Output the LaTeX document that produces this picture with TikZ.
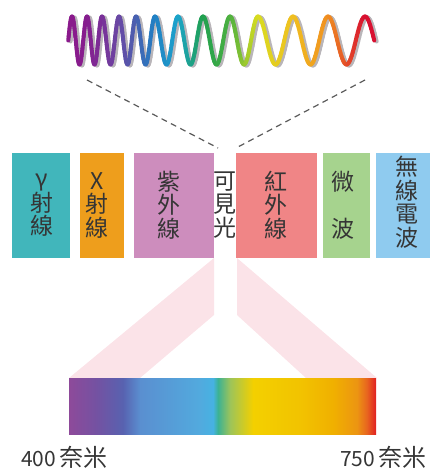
\documentclass[tikz,border=0pt]{standalone}
\usepackage{fontspec}
\newfontfamily\cjk{Noto Sans CJK TC}

% box and decoration colours
\definecolor{gamc}{HTML}{41B6BB}
\definecolor{xrc}{HTML}{EE9E1C}
\definecolor{uvc}{HTML}{CD8DBD}
\definecolor{irc}{HTML}{F08586}
\definecolor{mwc}{HTML}{A6D38E}
\definecolor{rdc}{HTML}{8FCBEF}
\definecolor{pinkc}{HTML}{FBE3E8}
\definecolor{txtc}{HTML}{353535}
\definecolor{dashc}{HTML}{5A5A5A}
\definecolor{waveshade}{HTML}{B9B5B9}

% wave colours at successive crests
\definecolor{w0}{HTML}{8A1A8C}
\definecolor{w1}{HTML}{861E8E}
\definecolor{w2}{HTML}{7A3098}
\definecolor{w3}{HTML}{6A48A4}
\definecolor{w4}{HTML}{4A60B0}
\definecolor{w5}{HTML}{2080C4}
\definecolor{w6}{HTML}{1CA4CC}
\definecolor{w7}{HTML}{20A050}
\definecolor{w8}{HTML}{4CB040}
\definecolor{w9}{HTML}{D8DC20}
\definecolor{w10}{HTML}{F0C020}
\definecolor{w11}{HTML}{F09020}
\definecolor{w12}{HTML}{D81030}

% visible spectrum stops
\definecolor{vs01}{HTML}{8E4A9A}
\definecolor{vs02}{HTML}{7352A2}
\definecolor{vs03}{HTML}{5862B0}
\definecolor{vs04}{HTML}{5A8FD0}
\definecolor{vs05}{HTML}{52AADE}
\definecolor{vs06}{HTML}{46B2E2}
\definecolor{vs07}{HTML}{3CB293}
\definecolor{vs08}{HTML}{9CC45A}
\definecolor{vs09}{HTML}{F3D000}
\definecolor{vs10}{HTML}{F2C300}
\definecolor{vs11}{HTML}{F0B000}
\definecolor{vs12}{HTML}{EC9512}
\definecolor{vs13}{HTML}{E8641F}
\definecolor{vs14}{HTML}{E01F22}

\pgfdeclarehorizontalshading{visband}{100bp}{%
  color(0bp)=(vs01); color(25bp)=(vs01); color(29.56bp)=(vs02);
  color(33.79bp)=(vs03); color(36.56bp)=(vs04); color(46.34bp)=(vs05);
  color(48.45bp)=(vs06); color(49.27bp)=(vs07); color(51.22bp)=(vs08);
  color(54.97bp)=(vs09); color(62.62bp)=(vs10); color(68bp)=(vs11);
  color(71.9bp)=(vs12); color(73.53bp)=(vs13); color(75bp)=(vs14);
  color(100bp)=(vs14)}

\newcommand\boxfont{\cjk\fontsize{23}{23.5}\selectfont}

% one pass over the chirped wave, crest to crest
\newcommand\wavepass[1]{%
  \foreach \xa/\xb/\ca/\cb/\ja/\jb in {57/72/w0/w0/27/35, 72/87/w0/w1/0/35,
      87/102/w1/w2/0/35, 102/119/w2/w3/0/35, 119/136/w3/w4/0/35,
      136/155/w4/w5/0/35, 155/178/w5/w6/0/35, 178/203/w6/w7/0/35,
      203/230/w7/w8/0/35, 230/258/w8/w9/0/35, 258/293/w9/w10/0/35,
      293/328/w10/w11/0/35, 328/365/w11/w12/0/35, 365/402/w12/w12/0/8}{%
    \foreach \j in {\ja,...,\jb}{%
      \pgfmathsetmacro\xp{\xa+(\xb-\xa)*\j/36}%
      \pgfmathsetmacro\xq{\xa+(\xb-\xa)*(\j+1)/36}%
      \pgfmathsetmacro\yp{40.5-24*cos(10*\j)}%
      \pgfmathsetmacro\yq{40.5-24*cos(10*(\j+1))}%
      \pgfmathtruncatemacro\pc{100*(\j+0.5)/36}%
      \colorlet{segc}{\cb!\pc!\ca}%
      \draw[wavepen, segc, #1] (\xp,\yp) -- (\xq,\yq);
    }%
  }%
}

\tikzset{
  wavepen/.style={line width=4pt, line cap=round},
  waveshadow/.style={draw=waveshade, xshift=2.4pt, yshift=-1pt},
  bandbox/.style={rectangle, inner sep=0pt, minimum height=105pt},
  bandtext/.style={inner sep=0pt, align=center, text=txtc, font=\boxfont},
  guide/.style={draw=dashc, line width=1.2pt, dash pattern=on 6pt off 4.5pt},
  fan/.style={fill=pinkc},
  scalelabel/.style={inner sep=0pt, text=txtc, font=\cjk\fontsize{21}{24}\selectfont},
}

\begin{document}
\begin{tikzpicture}[x=1pt,y=-1pt]
\useasboundingbox (0,0) rectangle (429,471);

% wave: soft grey shadow first, then the coloured stroke
\wavepass{waveshadow}
\wavepass{}

% dashed guides from the wave to the visible window
\coordinate (gl1) at (87,80);
\coordinate (gl2) at (218,148);
\coordinate (gr1) at (365,80);
\coordinate (gr2) at (236,148);
\draw[guide] (gl1) -- (gl2);
\draw[guide] (gr1) -- (gr2);

% bands of the spectrum
\node[bandbox, fill=gamc, minimum width=58pt] (gam) at (41,205.5) {};
\node[bandbox, fill=xrc,  minimum width=44pt] (xr)  at (102,205.5) {};
\node[bandbox, fill=uvc,  minimum width=80pt] (uv)  at (174,205.5) {};
\node[bandbox, fill=irc,  minimum width=81pt] (ir)  at (276.5,205.5) {};
\node[bandbox, fill=mwc,  minimum width=47pt] (mw)  at (346.5,205.5) {};
\node[bandbox, fill=rdc,  minimum width=61pt] (rd)  at (406.5,205.5) {};

\node[bandtext] (gamt) at (42,205) {γ\\射\\線};
\node[bandtext] (xrt)  at (97,205) {X\\射\\線};
\node[bandtext] (uvt)  at (168.5,205) {紫\\外\\線};
\node[bandtext] (vist) at (225,205) {可\\見\\光};
\node[bandtext] (irt)  at (275.5,205) {紅\\外\\線};
\node[bandtext] (mwt)  at (342.5,205) {微\\\mbox{}\\波};
\node[bandtext] (rdt)  at (406.5,202) {無\\線\\電\\波};

% pale fan opening from the visible window onto the spectrum bar
\fill[fan] (214,258) -- (214,315) -- (140,378) -- (69,378) -- cycle;
\fill[fan] (237,258) -- (237,315) -- (306,378) -- (377,378) -- cycle;

% visible spectrum
\node[rectangle, inner sep=0pt, minimum width=307pt, minimum height=56pt,
      shading=visband] (bar) at (222.5,406) {};

% wavelength marks
\node[scalelabel, anchor=base west] (lo) at (21,466)
  {400\,{\fontsize{24}{24}\selectfont 奈米}};
\node[scalelabel, anchor=base east] (hi) at (427,466)
  {750\,{\fontsize{24}{24}\selectfont 奈米}};
\end{tikzpicture}
\end{document}
